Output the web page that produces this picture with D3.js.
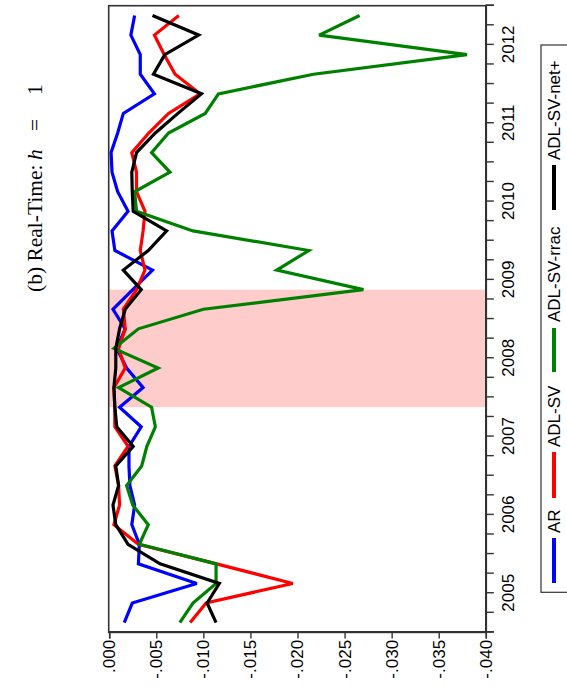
<!DOCTYPE html>
<html>
<head>
<meta charset="utf-8">
<script src="https://cdn.jsdelivr.net/npm/d3@7"></script>
<style>
  html, body { margin: 0; padding: 0; background: #fff; }
  svg { display: block; }
</style>
</head>
<body>
<div id="chart"></div>
<script>
// ---- Data (quarterly) ----
const quarters = [
  "2004q3","2004q4","2005q1","2005q2","2005q3","2005q4",
  "2006q1","2006q2","2006q3","2006q4","2007q1","2007q2","2007q3","2007q4",
  "2008q1","2008q2","2008q3","2008q4","2009q1","2009q2","2009q3","2009q4",
  "2010q1","2010q2","2010q3","2010q4","2011q1","2011q2","2011q3","2011q4",
  "2012q1","2012q2"
];
const seriesNames = ["AR", "ADL-SV", "ADL-SV-rrac", "ADL-SV-net+"];
const seriesColors = ["#0000ff", "#ff0000", "#008000", "#000000"];

const arValues = [
  -0.0016, -0.00245, -0.0093, -0.0031, -0.0032, -0.0024, -0.0027, -0.0022,
  -0.0021, -0.0021, -0.0034, -0.0011, -0.0036, -0.00185, -0.0008, -0.0017,
  -0.0004, -0.0025, -0.0046, -0.0006, -0.0003, -0.0020, -0.0009, -0.0003,
  -0.0002, -0.0009, -0.0015, -0.0048, -0.0033, -0.0033, -0.0023, -0.0027
];
const adlsvValues = [
  -0.0086, -0.0103, -0.0195, -0.0114, -0.0031, -0.0005, -0.0011, -0.0010,
  -0.0006, -0.0020, -0.0006, -0.0006, -0.0005, -0.0017, -0.0010, -0.0017,
  -0.0015, -0.0029, -0.0038, -0.0033, -0.0036, -0.0038, -0.0029, -0.0029,
  -0.0024, -0.0042, -0.0063, -0.00965, -0.0070, -0.00585, -0.0048, -0.0074
];
const rracValues = [
  -0.0075, -0.0089, -0.01135, -0.01135, -0.0032, -0.00415, -0.0025, -0.00185,
  -0.00345, -0.0040, -0.0049, -0.0045, -0.0010, -0.0052, -0.0005, -0.0031,
  -0.0100, -0.0270, -0.0178, -0.0212, -0.0089, -0.0029, -0.0027, -0.00645,
  -0.0045, -0.0063, -0.0102, -0.0116, -0.0217, -0.0380, -0.0223, -0.0266
];
const netValues = [
  -0.01135, -0.0104, -0.0117, -0.0054, -0.0020, -0.0007, -0.0004, -0.0010,
  -0.0007, -0.00255, -0.0008, -0.0006, -0.0005, -0.0007, -0.0007, -0.0011,
  -0.0017, -0.0034, -0.0015, -0.00415, -0.0061, -0.00255, -0.00245, -0.0024,
  -0.0029, -0.0049, -0.0073, -0.0098, -0.0047, -0.0059, -0.0095, -0.0046
];

const valueTicks = [0, -0.005, -0.010, -0.015, -0.020, -0.025, -0.030, -0.035, -0.040];
const valueTickLabels = [".000", "-.005", "-.010", "-.015", "-.020", "-.025", "-.030", "-.035", "-.040"];
const yearTicks = [2005, 2006, 2007, 2008, 2009, 2010, 2011, 2012];
const recessionBounds = [2007.375, 2008.875]; // shaded period

// ---- helpers ----
function qTime(s) { // mid-quarter position
  const yr = +s.slice(0, 4), q = +s.slice(5);
  return yr + (q - 1) / 4 + 0.125;
}
const allSeries = [arValues, adlsvValues, rracValues, netValues];

// ---- SVG ----
const W = 567, H = 696;
const svg = d3.select("#chart").append("svg")
  .attr("width", W).attr("height", H)
  .style("background", "#fff");

// Draw in the chart's original orientation, then rotate -90deg.
const g = svg.append("g").attr("transform", `translate(0,${H}) rotate(-90)`);

const x = d3.scaleLinear().domain([2004.5, 2012.5]).range([63.6, 690.3]);
const y = d3.scaleLinear().domain([0, -0.04]).range([109.2, 485.8]);

// recession shading
g.append("rect")
  .attr("x", x(recessionBounds[0]))
  .attr("y", y(0))
  .attr("width", x(recessionBounds[1]) - x(recessionBounds[0]))
  .attr("height", y(-0.04) - y(0))
  .attr("fill", "#ffcccc");

// lines
const line = d3.line()
  .x((d, i) => x(qTime(quarters[i])))
  .y(d => y(d));

allSeries.forEach((vals, k) => {
  g.append("path")
    .datum(vals)
    .attr("d", line)
    .attr("fill", "none")
    .attr("stroke", seriesColors[k])
    .attr("stroke-width", 3.2)
    .attr("stroke-linejoin", "miter")
    .attr("stroke-miterlimit", 3);
});

// frame
g.append("rect")
  .attr("x", x(2004.5)).attr("y", y(0) - 0.5)
  .attr("width", x(2012.5) - x(2004.5))
  .attr("height", y(-0.04) - y(0) + 0.5)
  .attr("fill", "none")
  .attr("stroke", "#333")
  .attr("stroke-width", 1.6);

// time axis (bottom in original orientation)
const quarterTicks = d3.range(0, 33).map(i => 2004.5 + i * 0.25);
const xAxis = g.append("g")
  .attr("transform", `translate(0,${y(-0.04)})`)
  .call(d3.axisBottom(x)
    .tickValues(quarterTicks)
    .tickSize(8)
    .tickPadding(8)
    .tickFormat(d => yearTicks.includes(d) ? String(d) : ""));
xAxis.select(".domain").attr("stroke", "#333").attr("stroke-width", 1.6);
xAxis.selectAll(".tick line").attr("stroke", "#333").attr("stroke-width", 1.4);
xAxis.selectAll(".tick text")
  .attr("font-family", "Liberation Sans, Arial, sans-serif")
  .attr("font-size", 17)
  .attr("fill", "#000");

// value axis (left in original orientation)
const yAxis = g.append("g")
  .attr("transform", `translate(${x(2004.5)},0)`)
  .call(d3.axisLeft(y)
    .tickValues(valueTicks)
    .tickSize(6)
    .tickPadding(1.5)
    .tickFormat((d, i) => valueTickLabels[i]));
yAxis.select(".domain").attr("stroke", "#333").attr("stroke-width", 1.6);
yAxis.selectAll(".tick line").attr("stroke", "#333").attr("stroke-width", 1.4);
yAxis.selectAll(".tick text")
  .attr("font-family", "Liberation Sans, Arial, sans-serif")
  .attr("font-size", 17)
  .attr("fill", "#000");

// title
const title = g.append("text")
  .attr("y", 42)
  .attr("font-family", "Liberation Serif, Times New Roman, serif")
  .attr("font-size", 21.5)
  .attr("fill", "#000");
title.append("tspan").attr("x", 404).text("(b) Real-Time:");
title.append("tspan").attr("x", 536).attr("font-style", "italic").text("h");
title.append("tspan").attr("x", 565).text("=");
title.append("tspan").attr("x", 601).text("1");

// legend
g.append("rect")
  .attr("x", 103.7).attr("y", 541)
  .attr("width", 547.3).attr("height", 45)
  .attr("fill", "#fff")
  .attr("stroke", "#333")
  .attr("stroke-width", 1.2);

const legendPos = [
  { s: 113, e: 158, t: 163 },
  { s: 198, e: 244, t: 249 },
  { s: 324, e: 368, t: 374 },
  { s: 486, e: 531, t: 536 }
];
seriesNames.forEach((name, k) => {
  const p = legendPos[k];
  g.append("line")
    .attr("x1", p.s).attr("x2", p.e)
    .attr("y1", 554).attr("y2", 554)
    .attr("stroke", seriesColors[k])
    .attr("stroke-width", 4);
  g.append("text")
    .attr("x", p.t).attr("y", 560)
    .attr("font-family", "Liberation Sans, Arial, sans-serif")
    .attr("font-size", 17)
    .attr("fill", "#000")
    .text(name);
});
</script>
</body>
</html>
